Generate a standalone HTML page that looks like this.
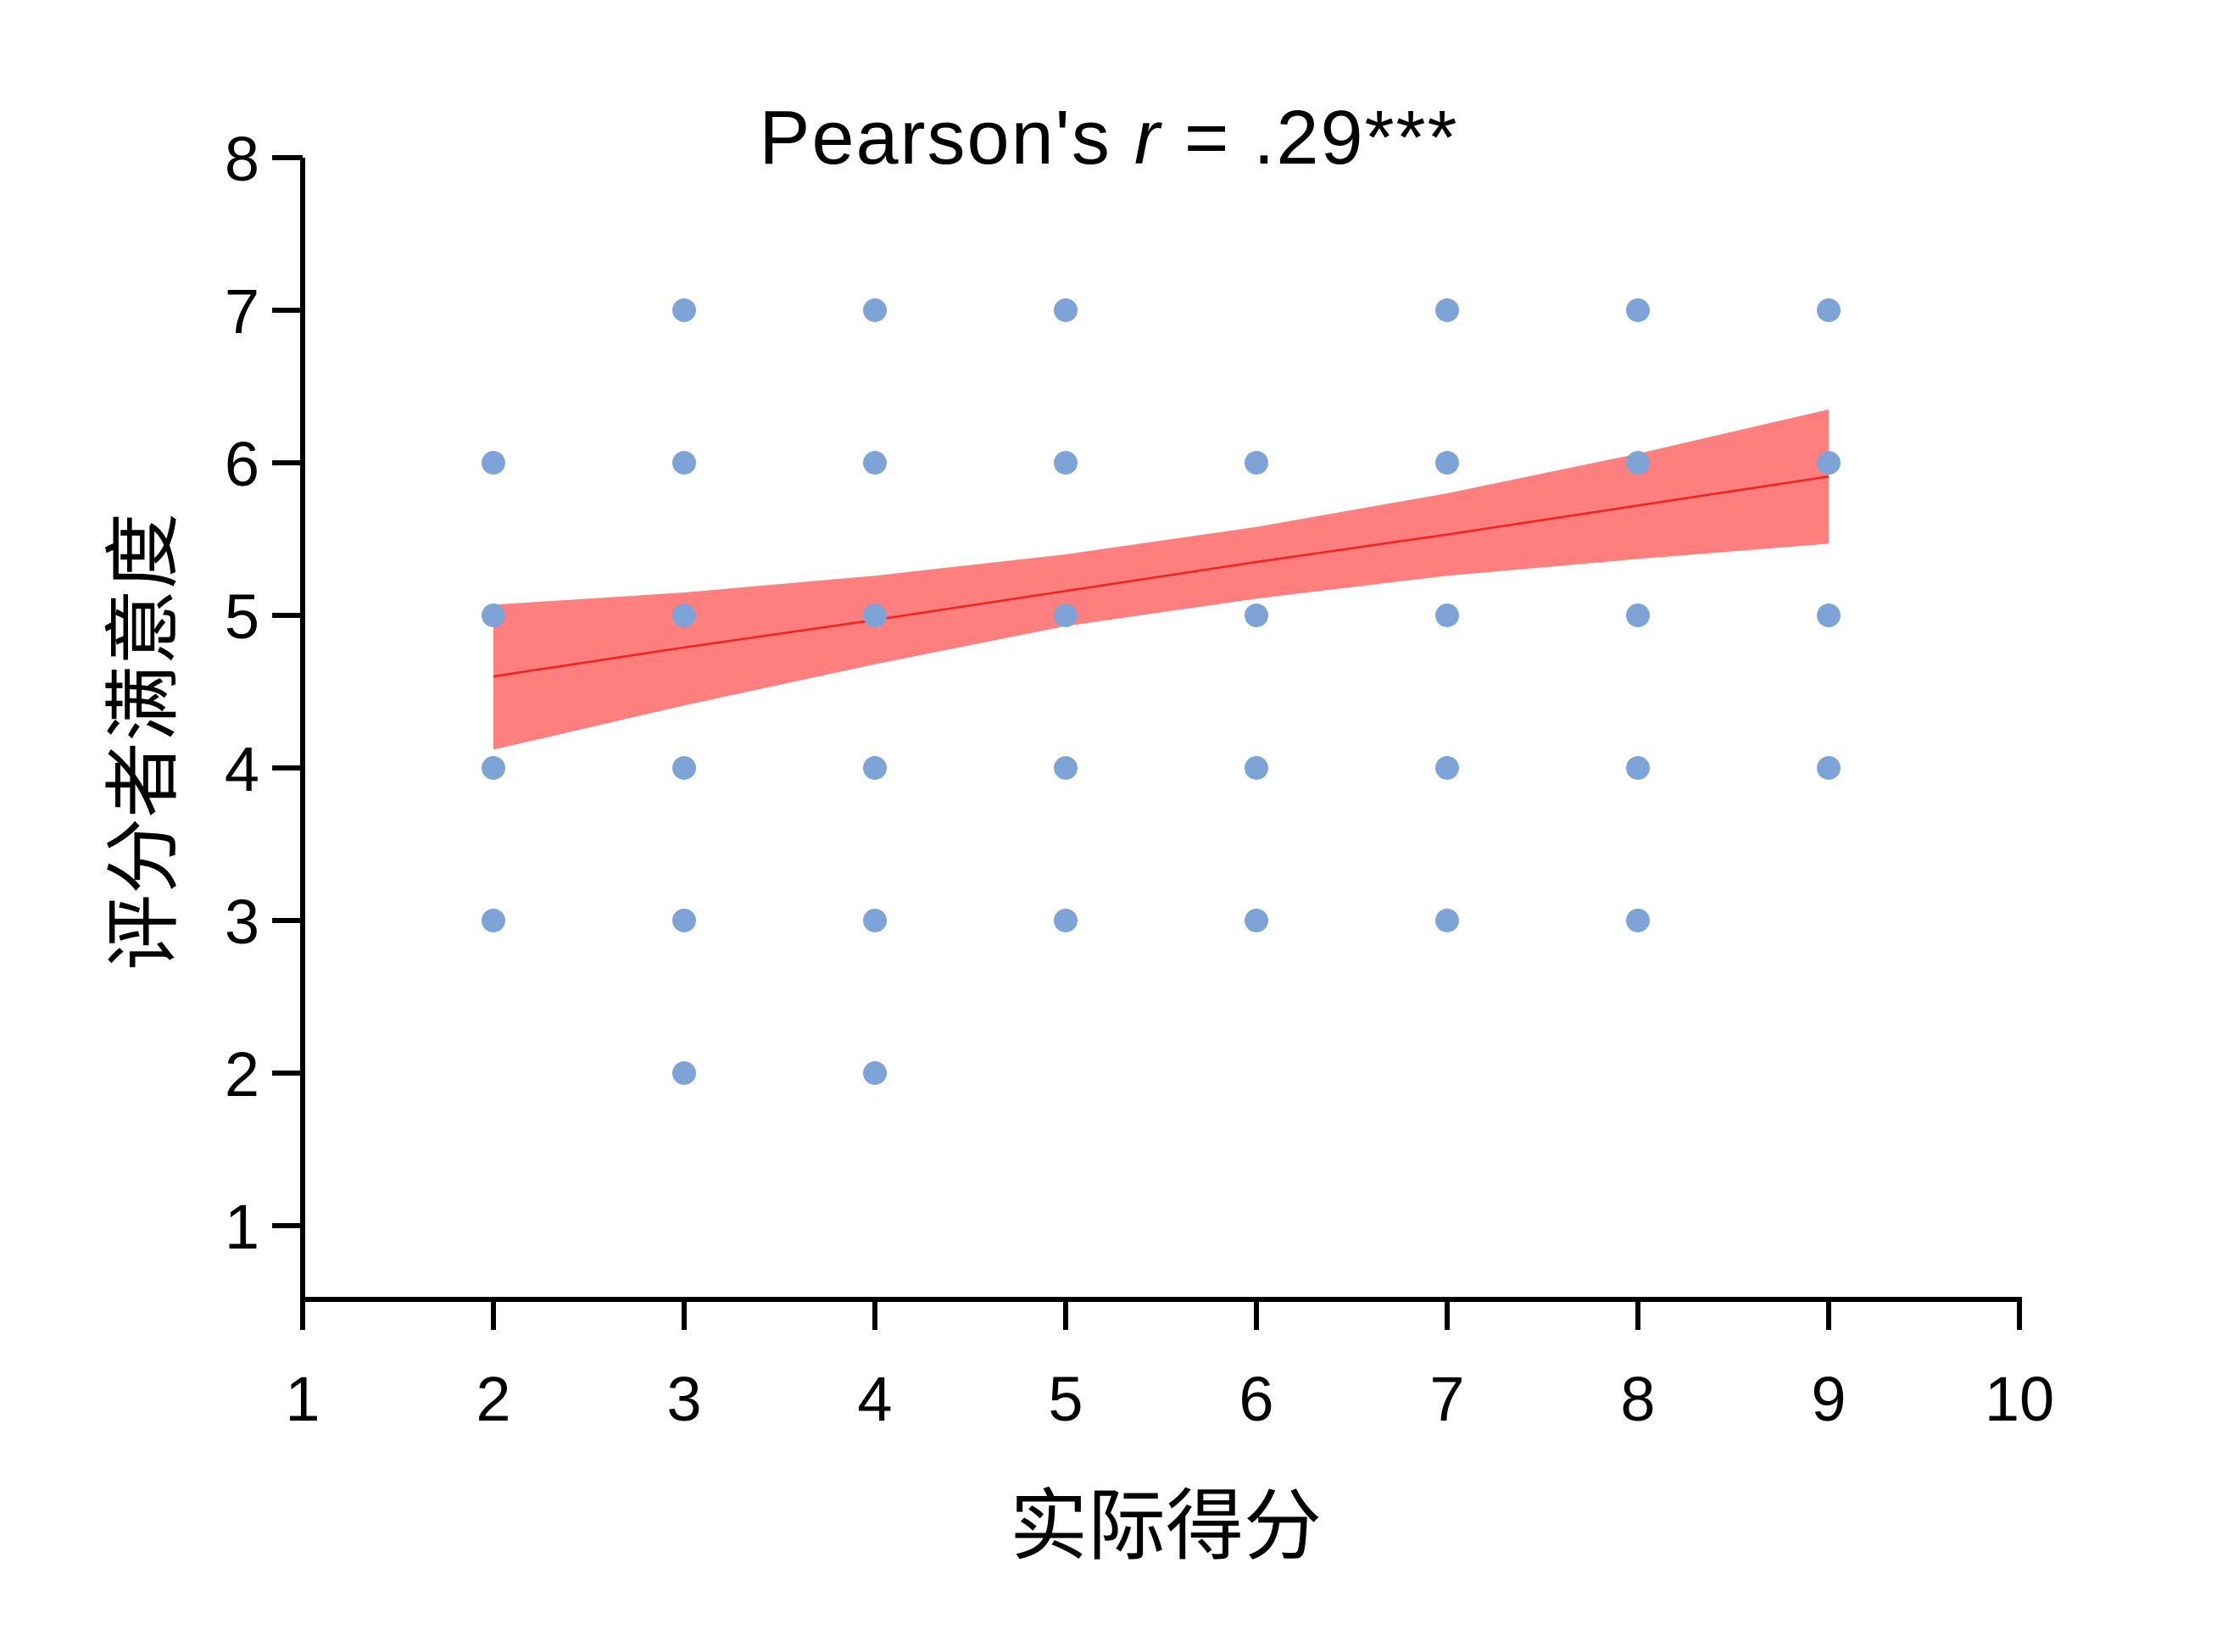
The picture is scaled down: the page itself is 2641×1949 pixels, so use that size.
<!DOCTYPE html>
<html><head><meta charset="utf-8"><style>
html,body{margin:0;padding:0;background:#fff;}
svg text{font-family:"Liberation Sans","Noto Sans CJK SC",sans-serif;fill:#000;}
</style></head><body>
<svg id="chart" width="2641" height="1944" viewBox="0 0 2641 1944" xmlns="http://www.w3.org/2000/svg">
<rect width="2641" height="1944" fill="#fff"/>
<text x="1308" y="193" font-size="90" text-anchor="middle" letter-spacing="2">Pearson's <tspan font-style="italic">r</tspan> = .29***</text>
<g id="band"></g>
<g id="points"></g>
<g id="axes"></g>
<text x="1375" y="1832" font-size="92" text-anchor="middle">实际得分</text>
<text transform="translate(200,875) rotate(-90)" font-size="90" text-anchor="middle">评分者满意度</text>
</svg>
<script>
const xTicks = [1,2,3,4,5,6,7,8,9,10];
const yTicks = [1,2,3,4,5,6,7,8];
const pointX = [2,2,2,2, 3,3,3,3,3,3, 4,4,4,4,4,4, 5,5,5,5,5, 6,6,6,6, 7,7,7,7,7, 8,8,8,8,8, 9,9,9,9];
const pointY = [6,5,4,3, 7,6,5,4,3,2, 7,6,5,4,3,2, 7,6,5,4,3, 6,5,4,3, 7,6,5,4,3, 7,6,5,4,3, 7,6,5,4];
const fitX = [2,3,4,5,6,7,8,9];
const fitLine = [4.60,4.79,4.97,5.16,5.35,5.53,5.72,5.91];
const fitUpper = [5.07,5.15,5.26,5.40,5.58,5.80,6.06,6.35];
const fitLower = [4.12,4.41,4.68,4.93,5.11,5.26,5.37,5.47];

const NS = "http://www.w3.org/2000/svg";
const sx = v => 357 + (v - 1) * 225;
const sy = v => 366 + (7 - v) * 180;
function mk(tag, attrs, parent){const e=document.createElementNS(NS,tag);for(const k in attrs)e.setAttribute(k,attrs[k]);parent.appendChild(e);return e;}

const band = document.getElementById('band');
let d = fitX.map((x,i)=>(i?'L':'M')+sx(x)+','+sy(fitUpper[i])).join(' ');
for(let i=fitX.length-1;i>=0;i--) d += ' L'+sx(fitX[i])+','+sy(fitLower[i]);
const area = mk('path',{d:d+' Z',fill:'#ff7f7f'},band);


const line = mk('path',{d:fitX.map((x,i)=>(i?'L':'M')+sx(x)+','+sy(fitLine[i])).join(' '),stroke:'#f52020',fill:'none','stroke-width':2.5},band);



const pts = document.getElementById('points');
pointX.forEach((x,i)=>{
  const c = mk('circle',{cx:sx(x),cy:sy(pointY[i]),r:14,fill:'#7ea3d6'},pts);
  
  
});

const ax = document.getElementById('axes');
const yAxis = mk('line',{x1:357,y1:sy(8),x2:357,y2:1536,stroke:'#000','stroke-width':6},ax);


const xAxis = mk('line',{x1:354,y1:1533,x2:sx(10)+3,y2:1533,stroke:'#000','stroke-width':6},ax);


xTicks.forEach(v=>{
  const t = mk('line',{x1:sx(v),y1:1533,x2:sx(v),y2:1569,stroke:'#000','stroke-width':6},ax);
  
  
  const l = mk('text',{x:sx(v),y:1676,'font-size':74,'text-anchor':'middle'},ax);
  l.textContent = v;
  
  
});
yTicks.forEach(v=>{
  const t = mk('line',{x1:321,y1:sy(v),x2:357,y2:sy(v),stroke:'#000','stroke-width':6},ax);
  
  
  const l = mk('text',{x:306,y:sy(v)+27,'font-size':74,'text-anchor':'end'},ax);
  l.textContent = v;
  
  
});
</script>
</body></html>
